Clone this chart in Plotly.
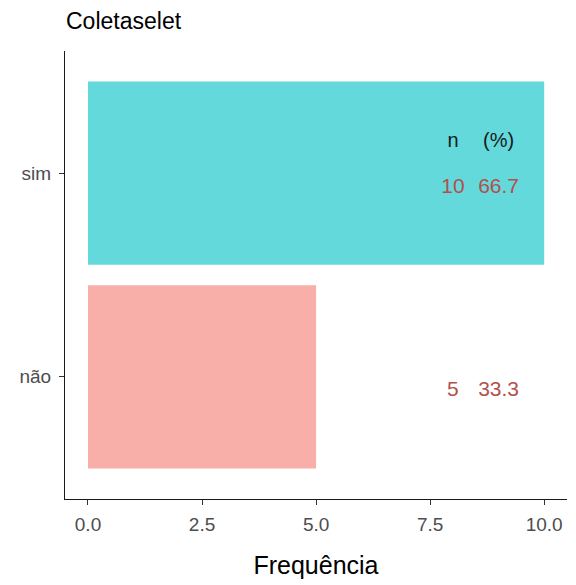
import plotly.graph_objects as go

categorias = ["não", "sim"]
frequencia = [5, 10]
percentual = [33.3, 66.7]
cores = ["#F9AFA9", "#63D9DC"]
posicao = [1, 2]

fonte = "Liberation Sans, Arial, sans-serif"
cor_rotulo = "#B2504C"

# a página tem 8px de margem no body, por isso a figura é 8px menor
W, H = 568, 577

fig = go.Figure()
fig.add_trace(go.Bar(
    x=frequencia,
    y=posicao,
    orientation="h",
    width=0.9,
    marker=dict(color=cores, line=dict(width=0)),
    hoverinfo="skip",
))

# n e (%) ao lado das barras
fig.add_trace(go.Scatter(
    x=[8, 9], y=[2.155, 2.155], mode="text",
    text=["n", "(%)"],
    textfont=dict(family=fonte, size=20, color="#1a1a1a"),
    hoverinfo="skip",
))
fig.add_trace(go.Scatter(
    x=[8] * len(frequencia) + [9] * len(percentual),
    y=[p - 0.07 for p in posicao] * 2,
    mode="text",
    text=[str(f) for f in frequencia] + [f"{p:.1f}" for p in percentual],
    textfont=dict(family=fonte, size=21, color=cor_rotulo),
    hoverinfo="skip",
))

fig.update_layout(
    width=W, height=H,
    margin=dict(l=57, r=9, t=43, b=86),
    plot_bgcolor="white", paper_bgcolor="white",
    showlegend=False,
    font=dict(family=fonte),
    title=dict(text="Coletaselet", x=58 / W, xanchor="left", y=1 - 13 / H, yanchor="middle",
               font=dict(family=fonte, size=23, color="black")),
)
fig.update_xaxes(
    range=[-0.504, 10.5],
    tickvals=[0, 2.5, 5, 7.5, 10],
    ticktext=["0.0", "2.5", "5.0", "7.5", "10.0"],
    showline=True, linecolor="#1a1a1a", linewidth=1.2,
    ticks="outside", ticklen=5, tickcolor="#333333", tickwidth=1.2,
    ticklabelstandoff=3,
    tickfont=dict(family=fonte, size=19, color="#4D4D4D"),
    showgrid=False, zeroline=False, automargin=False,
    title=dict(text="Frequência", font=dict(family=fonte, size=25, color="black"), standoff=22),
)
fig.update_yaxes(
    range=[0.4, 2.6],
    tickvals=posicao, ticktext=categorias,
    showline=True, linecolor="#1a1a1a", linewidth=1.2,
    ticks="outside", ticklen=5, tickcolor="#333333", tickwidth=1.2,
    ticklabelstandoff=4,
    tickfont=dict(family=fonte, size=19, color="#4D4D4D"),
    showgrid=False, zeroline=False, automargin=False,
)

fig.write_html("out.html")
